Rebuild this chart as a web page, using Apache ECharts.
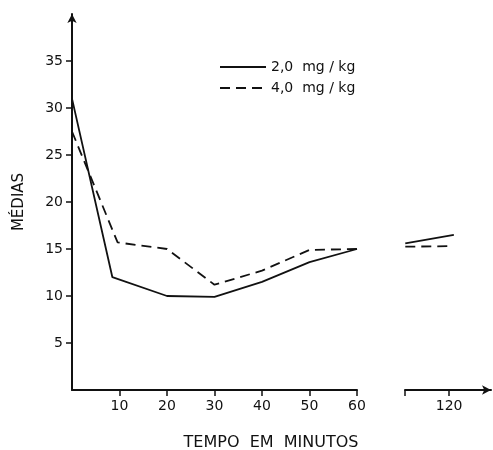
<!DOCTYPE html>
<html>
<head>
<meta charset="utf-8">
<script src="https://cdn.jsdelivr.net/npm/echarts@6/dist/echarts.min.js"></script>
<style>html,body{margin:0;padding:0;background:#fff}#c{width:493px;height:450px}</style>
</head>
<body>
<div id="c"></div>
<script>
// Data (time in minutes, mean values)
const seriesNames = ['2,0  mg / kg', '4,0  mg / kg'];
const timesLow = [0, 8.5, 20, 30, 40, 50, 60];
const valuesLowSolid = [31.0, 12.0, 10.0, 9.9, 11.5, 13.6, 15.0];
const timesLowDash = [0, 9.6, 20, 30, 40, 50, 60];
const valuesLowDash = [27.5, 15.7, 15.0, 11.2, 12.7, 14.9, 15.0];
const timesHighSolid = [110.8, 121];
const valuesHighSolid = [15.6, 16.5];
const timesHighDash = [110.8, 120.3];
const valuesHighDash = [15.25, 15.3];
const xTicksLow = [10, 20, 30, 40, 50, 60];
const xTicksHigh = [120];
const yTicks = [5, 10, 15, 20, 25, 30, 35];

const pair = (xs, ys) => xs.map((x, i) => [x, ys[i]]);
const font = 'DejaVu Sans';
const ink = '#111';
const solidStyle = {color: ink, width: 1.8, type: 'solid'};
const dashStyle = {color: ink, width: 1.8, type: [10, 6]};

const chart = echarts.init(document.getElementById('c'), null, {renderer: 'canvas'});
chart.setOption({
  animation: false,
  backgroundColor: '#fff',
  title: {
    text: 'TEMPO  EM  MINUTOS',
    left: 266, top: 430, textAlign: 'center',
    textStyle: {fontFamily: font, fontSize: 16, fontWeight: 'normal', color: ink}
  },
  legend: {
    data: seriesNames,
    orient: 'vertical',
    left: 214, top: 55,
    itemWidth: 46, itemHeight: 14, itemGap: 7,
    itemStyle: {opacity: 0},
    textStyle: {fontFamily: font, fontSize: 14, color: ink}
  },
  grid: [
    {left: 72, top: 14, width: 285, height: 376},
    {left: 405, top: 14, width: 86, height: 376}
  ],
  xAxis: [
    {
      gridIndex: 0, type: 'value', min: 0, max: 60,
      axisLine: {lineStyle: {color: ink, width: 2}},
      axisTick: {show: true, customValues: xTicksLow, length: 6, lineStyle: {color: ink, width: 1.5}},
      axisLabel: {customValues: xTicksLow, margin: 9, fontFamily: font, fontSize: 14, color: ink},
      splitLine: {show: false}
    },
    {
      gridIndex: 1, type: 'value', min: 110.74, max: 128.8,
      axisLine: {lineStyle: {color: ink, width: 2}, symbol: ['none', 'arrow'], symbolSize: [7, 9]},
      axisTick: {show: true, customValues: [110.74, 120], length: 6, lineStyle: {color: ink, width: 1.5}},
      axisLabel: {customValues: xTicksHigh, margin: 9, fontFamily: font, fontSize: 14, color: ink},
      splitLine: {show: false}
    }
  ],
  yAxis: [
    {
      gridIndex: 0, type: 'value', min: 0, max: 40,
      name: 'MÉDIAS', nameLocation: 'middle', nameRotate: 90, nameGap: 45,
      nameTextStyle: {fontFamily: font, fontSize: 15, color: ink},
      axisLine: {show: true, lineStyle: {color: ink, width: 2}, symbol: ['none', 'arrow'], symbolSize: [7, 9]},
      axisTick: {show: true, customValues: yTicks, length: 6, lineStyle: {color: ink, width: 1.5}},
      axisLabel: {customValues: yTicks, margin: 9, fontFamily: font, fontSize: 14, color: ink},
      splitLine: {show: false}
    },
    {
      gridIndex: 1, type: 'value', min: 0, max: 40, show: false
    }
  ],
  series: [
    {name: seriesNames[0], type: 'line', xAxisIndex: 0, yAxisIndex: 0, data: pair(timesLow, valuesLowSolid),
     symbol: 'none', lineStyle: solidStyle, itemStyle: {color: ink}},
    {name: seriesNames[1], type: 'line', xAxisIndex: 0, yAxisIndex: 0, data: pair(timesLowDash, valuesLowDash),
     symbol: 'none', lineStyle: dashStyle, itemStyle: {color: ink}},
    {name: seriesNames[0], type: 'line', xAxisIndex: 1, yAxisIndex: 1, data: pair(timesHighSolid, valuesHighSolid),
     symbol: 'none', lineStyle: solidStyle, itemStyle: {color: ink}},
    {name: seriesNames[1], type: 'line', xAxisIndex: 1, yAxisIndex: 1, data: pair(timesHighDash, valuesHighDash),
     symbol: 'none', lineStyle: dashStyle, itemStyle: {color: ink}}
  ]
});
</script>
</body>
</html>
